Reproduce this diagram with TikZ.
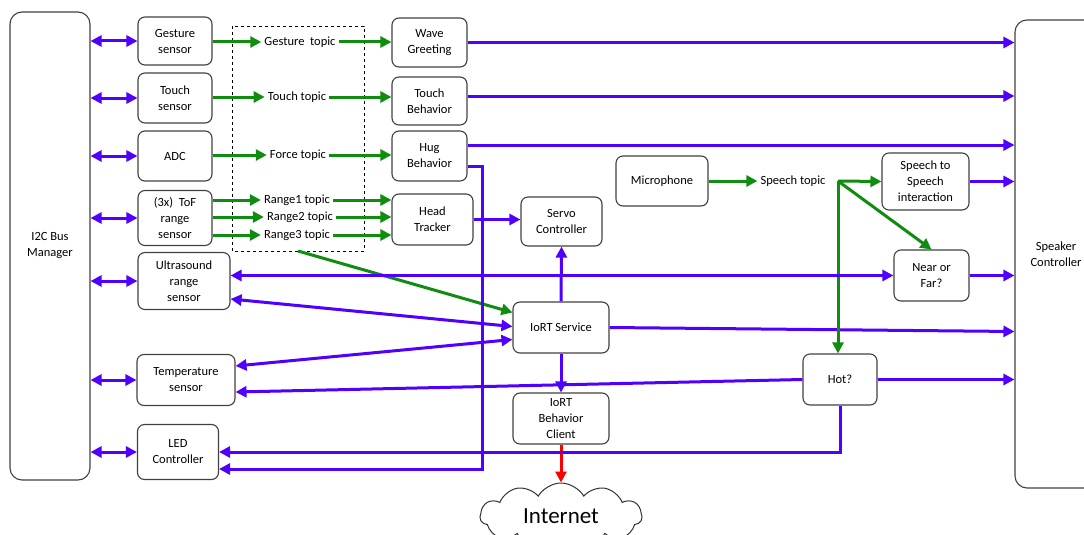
\documentclass[tikz,border=0pt]{standalone}
\usepackage{fontspec}
\setmainfont{Carlito}
\usetikzlibrary{arrows.meta,shapes.symbols}
\definecolor{busblue}{RGB}{80,0,255}
\definecolor{topicgreen}{RGB}{16,140,16}

\begin{document}
\begin{tikzpicture}[x=1pt,y=-1pt, font=\fontsize{12.5}{16}\selectfont,
  >={Triangle[length=11pt,width=11pt]},
  box/.style={draw=black!75, line width=1.1pt, rounded corners=7pt, align=center, inner sep=1pt},
  topic/.style={inner sep=3pt},
  bus/.style={->, busblue, line width=3pt},
  flow/.style={->, topicgreen, line width=3pt},
  net/.style={->, red, line width=3pt}]

\useasboundingbox (0,0) rectangle (1084,535);

% side managers
\node[box, rounded corners=12pt, minimum width=80pt, minimum height=468pt] (i2c) at (50,246) {I2C Bus\\Manager};
\node[box, rounded corners=12pt, minimum width=82pt, minimum height=468pt] (speaker) at (1056,254) {Speaker\\Controller};

% sensors
\node[box, minimum width=74pt, minimum height=48pt] (gesture) at (175,41) {Gesture\\sensor};
\node[box, minimum width=74pt, minimum height=50pt] (touch) at (175,98) {Touch\\sensor};
\node[box, minimum width=74pt, minimum height=50pt] (adc) at (175,156) {ADC};
\node[box, minimum width=74pt, minimum height=55pt] (tof) at (175,218) {(3x)~ ToF\\range\\sensor};
\node[box, minimum width=92pt, minimum height=57pt] (ultra) at (184,281) {Ultrasound\\range\\sensor};
\node[box, minimum width=98pt, minimum height=51pt] (temp) at (186,380) {Temperature\\sensor};
\node[box, minimum width=81pt, minimum height=55pt] (led) at (178,452) {LED\\Controller};

% topics
\draw[dashed, line width=0.8pt] (232,26) rectangle (364,251);
\coordinate (tboxfoot) at (298,251);
\node[topic] (gtopic) at (300,42) {Gesture~ topic};
\node[topic] (ttopic) at (297,97) {Touch topic};
\node[topic] (ftopic) at (298,155) {Force topic};
\node[topic] (r1topic) at (297,200) {Range1 topic};
\node[topic] (r2topic) at (300,217) {Range2 topic};
\node[topic] (r3topic) at (297,235) {Range3 topic};

% behaviors
\node[box, minimum width=75pt, minimum height=49pt] (wave) at (429.5,42.5) {Wave\\Greeting};
\node[box, minimum width=75pt, minimum height=48pt] (touchb) at (429.5,101) {Touch\\Behavior};
\node[box, minimum width=75pt, minimum height=50pt] (hug) at (429.5,156) {Hug\\Behavior};
\node[box, minimum width=81pt, minimum height=51pt] (head) at (432.5,219.5) {Head\\Tracker};
\node[box, minimum width=81pt, minimum height=49pt] (servo) at (561.5,221.5) {Servo\\Controller};
\node[box, minimum width=96pt, minimum height=51pt] (iort) at (561,327.5) {IoRT Service};
\node[box, minimum width=96pt, minimum height=51pt] (client) at (561,418.5) {IoRT\\Behavior\\Client};
\node[cloud, draw=black!80, line width=1pt, cloud puffs=11, cloud puff arc=120, aspect=2.6,
  minimum width=162pt, minimum height=66pt, font=\fontsize{23}{26}\selectfont] (internet) at (561,516) {Internet};

% speech side
\node[box, minimum width=92pt, minimum height=50pt] (mic) at (662,181) {Microphone};
\node[topic] (stopic) at (793,181) {Speech topic};
\coordinate (sbranch) at (838,181);
\node[box, minimum width=87pt, minimum height=57pt] (s2s) at (925.5,181.5) {Speech to\\Speech\\interaction};
\node[box, minimum width=75pt, minimum height=51pt] (near) at (931.5,275.5) {Near or\\Far?};
\node[box, minimum width=74pt, minimum height=51pt] (hot) at (840,379.5) {Hot?};

% bus links
\foreach \s in {gesture,touch,adc,tof,ultra,temp,led}
  \draw[bus,<->] (i2c.east |- \s.west) -- (\s.west);

% sensor -> topic -> behavior
\draw[flow] (gesture.east |- gtopic) -- (gtopic.west);
\draw[flow] (touch.east |- ttopic) -- (ttopic.west);
\draw[flow] (adc.east |- ftopic) -- (ftopic.west);
\foreach \t in {r1topic,r2topic,r3topic} {
  \draw[flow] (tof.east |- \t) -- (\t.west);
  \draw[flow] (\t.east) -- (\t.east -| head.west);
}
\draw[flow] (gtopic.east) -- (gtopic.east -| wave.west);
\draw[flow] (ttopic.east) -- (ttopic.east -| touchb.west);
\draw[flow] (ftopic.east) -- (ftopic.east -| hug.west);
\draw[flow] (tboxfoot) -- ([yshift=15pt]iort.west);

% behaviors -> speaker
\draw[bus] (wave.east) -- (wave.east -| speaker.west);
\draw[bus] ([yshift=5pt]touchb.east) -- ([yshift=5pt]touchb.east -| speaker.west);
\draw[bus] ([yshift=11pt]hug.east) -- ([yshift=11pt]hug.east -| speaker.west);
\draw[bus] ([yshift=-10pt]hug.east) -| ([yshift=-17pt]led.east -| 482,0) -- ([yshift=-17pt]led.east);
\draw[bus] (head.east) -- (head.east -| servo.west);

% IoRT service
\draw[bus] (iort.north) -- (servo.south);
\draw[bus] (iort.south) -- (client.north);
\draw[net] (client.south) -- (internet.north);
\draw[bus] (iort.east) -- ([yshift=-4pt]iort.east -| speaker.west);
\draw[bus,<->] ([yshift=-18pt]ultra.east) -- ([yshift=1pt]iort.west);
\draw[bus,<->] ([yshift=14pt]temp.east) -- ([yshift=-12pt]iort.west);

% speech
\draw[flow] (mic.east) -- (stopic.west);
\draw[flow] (sbranch) -- (s2s.west);
\draw[flow] (sbranch) -- (near.north);
\draw[flow] (sbranch) -- (sbranch |- hot.north);
\draw[bus] (s2s.east) -- (s2s.east -| speaker.west);
\draw[bus,<->] (near.west) -- (near.west -| ultra.east);
\draw[bus] (near.east) -- (near.east -| speaker.west);
\draw[bus] (hot.east) -- (hot.east -| speaker.west);
\draw[bus] (hot.west) -- ([yshift=-12pt]temp.east);
\draw[bus] (hot.south) |- (led.east);

\end{tikzpicture}
\end{document}
